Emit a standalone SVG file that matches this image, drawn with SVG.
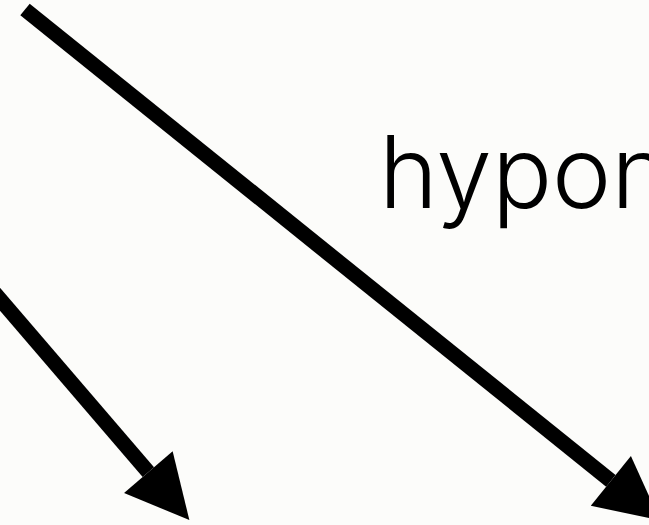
<svg xmlns="http://www.w3.org/2000/svg" width="649" height="525" viewBox="0 0 649 525">
  <defs>
    <marker id="head" markerUnits="userSpaceOnUse" viewBox="0 -32 63 64" markerWidth="63" markerHeight="64" refX="0" refY="0" orient="auto" overflow="visible">
      <path d="M0,-32 L63,0 L0,32 Z" fill="#000"/>
    </marker>
  </defs>
  <style>
    .edge { fill: none; stroke: #000; stroke-width: 15; stroke-linecap: butt; marker-end: url(#head); }
    .label { font-family: Inter, "Open Sans", "Liberation Sans", sans-serif; font-weight: 300; font-size: 100px; fill: #000; }
  </style>
  <rect width="649" height="525" fill="#fcfcfa"/>
  <g id="connectors">
    <path class="edge" d="M25,9.5 L610.85,480.85"/>
    <path class="edge" d="M-30,264.2 L148.35,472.2"/>
  </g>
  <g id="label-hyponym">
    <text class="label" x="379" y="208">hypon</text>
  </g>
</svg>
